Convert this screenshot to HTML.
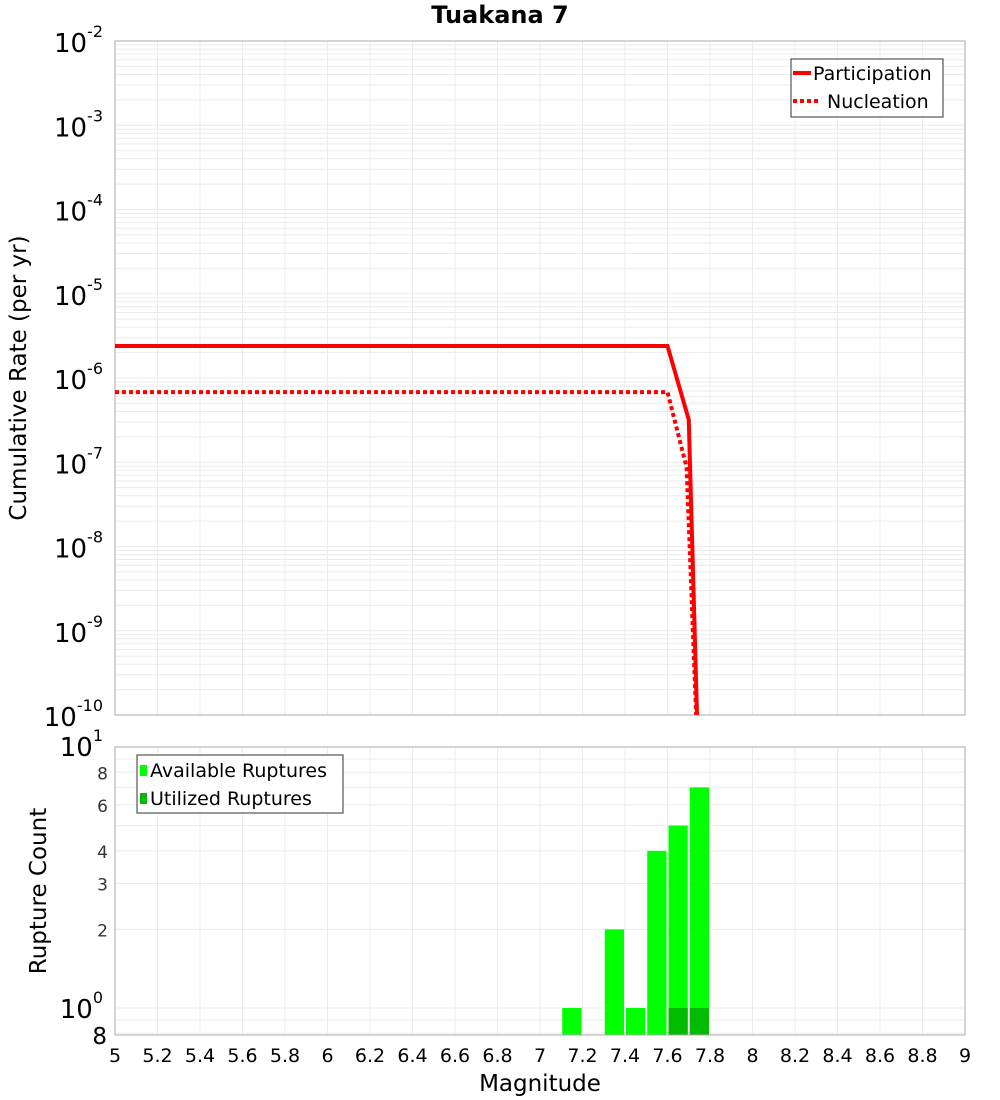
<!DOCTYPE html>
<html><head><meta charset="utf-8"><style>
body{margin:0;background:#fff;font-family:"DejaVu Sans","Liberation Sans",sans-serif;}
svg{display:block}
</style></head><body>
<svg id="c" width="1000" height="1100" xmlns="http://www.w3.org/2000/svg"></svg>
<script>
const partMag=[5.0,7.6,7.7,7.75];
const partRate=[2.4e-6,2.4e-6,3.2e-7,1e-11];
const nuclMag=[5.0,7.6,7.69,7.75];
const nuclRate=[6.8e-7,6.8e-7,8.7e-8,1e-11];
const binStart=[7.1,7.3,7.4,7.5,7.6,7.7];
const availCount=[1,2,1,4,5,7];
const usedStart=[7.6,7.7];
const usedCount=[1,1];
const xTicks=[5,5.2,5.4,5.6,5.8,6,6.2,6.4,6.6,6.8,7,7.2,7.4,7.6,7.8,8,8.2,8.4,8.6,8.8,9];
const topExps=[-2,-3,-4,-5,-6,-7,-8,-9,-10];
const botTicks=[8,6,4,3,2];

const NS="http://www.w3.org/2000/svg";
const svg=document.getElementById('c');
const L=115,R=965,T1=41,B1=715,T2=747,B2=1035;
const X=m=>L+(m-5)/4*(R-L);
const Y1=v=>T1+(-2-Math.log10(v))*(B1-T1)/8;
const DEC2=261, Y2=v=>T2+(1-Math.log10(v))*DEC2;
function mk(tag,at,parent){const e=document.createElementNS(NS,tag);for(const k in at)e.setAttribute(k,at[k]);(parent||svg).appendChild(e);return e;}
function txt(s,at,parent){const e=mk('text',at,parent);e.textContent=s;return e;}

const defs=mk('defs',{});
const cp1=mk('clipPath',{id:'cp1'},defs);mk('rect',{x:L,y:T1,width:R-L,height:B1-T1},cp1);
const cp2=mk('clipPath',{id:'cp2'},defs);mk('rect',{x:L,y:T2,width:R-L,height:B2-T2},cp2);

let t=txt('Tuakana 7',{x:500,y:23,'font-size':24,'font-weight':'bold','text-anchor':'middle'});


const g1=mk('g',{stroke:'#ebebeb','stroke-width':1,'clip-path':'url(#cp1)'});

for(let e=-10;e<-2;e++)for(let k=1;k<10;k++){const y=Y1(k*Math.pow(10,e));mk('line',{x1:L,x2:R,y1:y,y2:y},g1);}
xTicks.forEach(m=>mk('line',{x1:X(m),x2:X(m),y1:T1,y2:B1},g1));
const f1=mk('rect',{x:L,y:T1,width:R-L,height:B1-T1,fill:'none',stroke:'#aaa'});


topExps.forEach(e=>{const y=Y1(Math.pow(10,e));
 const g=mk('text',{x:103,y:y+11,'font-size':26,'text-anchor':'end'});
 
 g.textContent='10';
 const s=mk('tspan',{dy:-15,'font-size':16},g);s.textContent=String(e);
});
t=txt('Cumulative Rate (per yr)',{x:26,y:378,'font-size':23,'text-anchor':'middle',transform:'rotate(-90 26 378)'});


function pts(ms,vs,Y){return ms.map((m,i)=>X(m)+','+Y(vs[i])).join(' ');}
let p=mk('polyline',{points:pts(partMag,partRate,Y1),fill:'none',stroke:'#f00','stroke-width':4,'clip-path':'url(#cp1)'});

p=mk('polyline',{points:pts(nuclMag,nuclRate,Y1),fill:'none',stroke:'#f00','stroke-width':4,'stroke-dasharray':'4 3','clip-path':'url(#cp1)'});


const lg=mk('g',{});
mk('rect',{x:791,y:59,width:152,height:58,fill:'#fff',stroke:'#333'},lg);
mk('line',{x1:793,x2:811,y1:73,y2:73,stroke:'#f00','stroke-width':4},lg);
txt('Participation',{x:813,y:80,'font-size':19},lg);
mk('line',{x1:793,x2:821,y1:101,y2:101,stroke:'#f00','stroke-width':4,'stroke-dasharray':'4 3'},lg);
txt('Nucleation',{x:827,y:108,'font-size':19},lg);

const g2=mk('g',{stroke:'#ebebeb','stroke-width':1,'clip-path':'url(#cp2)'});

[0.8,0.9,1,2,3,4,5,6,7,8,9].forEach(v=>{const y=Y2(v);mk('line',{x1:L,x2:R,y1:y,y2:y},g2);});
xTicks.forEach(m=>mk('line',{x1:X(m),x2:X(m),y1:T2,y2:B2},g2));

const bw=X(5.1)-X(5);
binStart.forEach((m,i)=>{const r=mk('rect',{x:X(m)+1,y:Y2(availCount[i]),width:bw-2,height:B2-Y2(availCount[i]),fill:'#00ff00','clip-path':'url(#cp2)'});
 });
usedStart.forEach((m,i)=>{const r=mk('rect',{x:X(m)+1,y:Y2(usedCount[i]),width:bw-2,height:B2-Y2(usedCount[i]),fill:'#00bb00','clip-path':'url(#cp2)'});
 });
const f2=mk('rect',{x:L,y:T2,width:R-L,height:B2-T2,fill:'none',stroke:'#aaa'});


function pow(e,y){const g=mk('text',{x:103,y:y,'font-size':26,'text-anchor':'end'});
 
 g.textContent='10';const s=mk('tspan',{dy:-15,'font-size':16},g);s.textContent=e;}
pow('1',Y2(10)+9);pow('0',Y2(1)+10);
botTicks.forEach(v=>{const e=txt(String(v),{x:108,y:Y2(v)+7,'font-size':17,'text-anchor':'end',fill:'#333'});
 });
t=txt('8',{x:107,y:B2+9,'font-size':23,'text-anchor':'end'});

t=txt('Rupture Count',{x:46,y:891,'font-size':23,'text-anchor':'middle',transform:'rotate(-90 46 891)'});


xTicks.forEach(m=>{const e=txt(String(m),{x:X(m),y:1062,'font-size':19,'text-anchor':'middle'});
 });
t=txt('Magnitude',{x:540,y:1091,'font-size':23,'text-anchor':'middle'});


const lg2=mk('g',{});
mk('rect',{x:137,y:755,width:206,height:58,fill:'#fff',stroke:'#333'},lg2);
mk('rect',{x:140,y:765,width:7,height:11,fill:'#00ff00'},lg2);
txt('Available Ruptures',{x:150,y:777,'font-size':19},lg2);
mk('rect',{x:140,y:793,width:7,height:11,fill:'#00bb00'},lg2);
txt('Utilized Ruptures',{x:150,y:805,'font-size':19},lg2);
</script>
</body></html>
